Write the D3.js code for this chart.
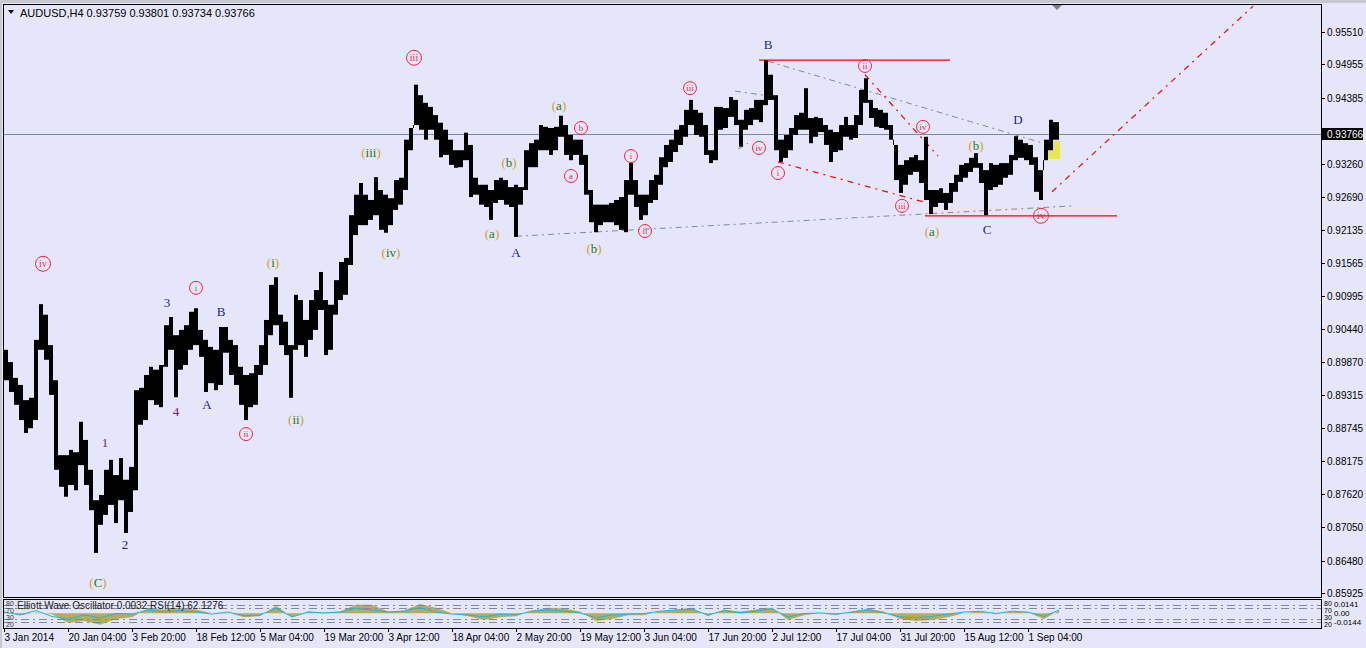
<!DOCTYPE html>
<html><head><meta charset="utf-8">
<script src="https://cdn.jsdelivr.net/npm/d3@7"></script>
<style>body{margin:0;background:#E6E6FA;overflow:hidden}svg{display:block}</style>
</head><body><svg id="c" width="1366" height="648"></svg>
<script>
// ---- data ----
const barsPerGroup = 5;   // each entry = high/low of 5 consecutive H4 bars
const highs = [
0.9008,0.8987,0.8960,0.8948,0.8922,0.8926,0.9025,0.9086,0.9068,0.9016,
0.8956,0.8828,0.8828,0.8837,0.8833,0.8885,0.8854,0.8803,0.8751,0.8760,
0.8803,0.8820,0.8794,0.8823,0.8786,0.8808,0.8939,0.8943,0.8965,0.8979,
0.8974,0.8982,0.9050,0.9064,0.9033,0.9042,0.9050,0.9073,0.9079,0.9042,
0.9025,0.9013,0.9008,0.9047,0.9047,0.9025,0.9016,0.8979,0.8965,0.8968,
0.8982,0.9016,0.9059,0.9119,0.9132,0.9068,0.9056,0.9016,0.9102,0.9093,
0.9059,0.9093,0.9110,0.9141,0.9093,0.9085,0.9127,0.9158,0.9165,0.9238,
0.9273,0.9293,0.9273,0.9264,0.9303,0.9281,0.9273,0.9267,0.9298,0.9302,
0.9367,0.9387,0.9461,0.9443,0.9430,0.9423,0.9409,0.9396,0.9384,0.9367,
0.9349,0.9349,0.9379,0.9358,0.9302,0.9290,0.9290,0.9281,0.9298,0.9302,
0.9298,0.9286,0.9290,0.9286,0.9349,0.9361,0.9367,0.9392,0.9389,0.9387,
0.9389,0.9408,0.9392,0.9375,0.9367,0.9367,0.9341,0.9281,0.9256,0.9256,
0.9256,0.9259,0.9264,0.9269,0.9298,0.9327,0.9298,0.9273,0.9273,0.9298,
0.9307,0.9337,0.9358,0.9367,0.9384,0.9392,0.9418,0.9435,0.9418,0.9413,
0.9392,0.9349,0.9423,0.9423,0.9421,0.9440,0.9435,0.9401,0.9418,0.9421,
0.9435,0.9435,0.9503,0.9478,0.9443,0.9367,0.9375,0.9387,0.9409,0.9413,
0.9455,0.9404,0.9406,0.9404,0.9392,0.9384,0.9380,0.9392,0.9406,0.9392,
0.9409,0.9452,0.9472,0.9435,0.9421,0.9418,0.9413,0.9392,0.9358,0.9324,
0.9332,0.9337,0.9341,0.9332,0.9372,0.9281,0.9281,0.9284,0.9276,0.9293,
0.9307,0.9324,0.9327,0.9336,0.9344,0.9327,0.9315,0.9327,0.9324,0.9327,
0.9327,0.9341,0.9373,0.9367,0.9361,0.9358,0.9337,0.9315,0.9367,0.9401,0.9397];
const lows = [
0.8956,0.8936,0.8914,0.8888,0.8866,0.8874,0.8888,0.9008,0.8991,0.8931,
0.8803,0.8774,0.8757,0.8777,0.8768,0.8811,0.8777,0.8734,0.8661,0.8709,
0.8726,0.8743,0.8712,0.8751,0.8695,0.8731,0.8768,0.8880,0.8888,0.8922,
0.8914,0.8910,0.8979,0.9008,0.8927,0.8974,0.8982,0.9008,0.9016,0.8996,
0.8936,0.8951,0.8939,0.8948,0.9003,0.8965,0.8948,0.8914,0.8888,0.8910,
0.8914,0.8965,0.8982,0.9033,0.9050,0.9016,0.8999,0.8926,0.9008,0.9016,
0.8996,0.9025,0.9042,0.9076,0.8999,0.9008,0.9068,0.9093,0.9102,0.9153,
0.9204,0.9221,0.9221,0.9230,0.9238,0.9213,0.9208,0.9221,0.9247,0.9256,
0.9281,0.9349,0.9392,0.9384,0.9367,0.9384,0.9367,0.9337,0.9341,0.9324,
0.9319,0.9320,0.9332,0.9269,0.9273,0.9256,0.9252,0.9230,0.9259,0.9264,
0.9256,0.9252,0.9201,0.9256,0.9281,0.9320,0.9320,0.9349,0.9349,0.9341,
0.9349,0.9372,0.9341,0.9332,0.9341,0.9324,0.9273,0.9226,0.9209,0.9221,
0.9226,0.9226,0.9221,0.9213,0.9209,0.9273,0.9252,0.9230,0.9238,0.9259,
0.9264,0.9290,0.9320,0.9329,0.9346,0.9358,0.9372,0.9392,0.9375,0.9372,
0.9341,0.9327,0.9332,0.9384,0.9387,0.9406,0.9392,0.9355,0.9384,0.9392,
0.9401,0.9397,0.9426,0.9435,0.9349,0.9329,0.9336,0.9349,0.9375,0.9384,
0.9384,0.9361,0.9372,0.9380,0.9358,0.9329,0.9346,0.9349,0.9372,0.9367,
0.9370,0.9392,0.9430,0.9404,0.9389,0.9387,0.9384,0.9367,0.9298,0.9276,
0.9290,0.9307,0.9312,0.9293,0.9264,0.9240,0.9252,0.9259,0.9247,0.9259,
0.9278,0.9295,0.9302,0.9312,0.9319,0.9293,0.9238,0.9281,0.9286,0.9290,
0.9302,0.9307,0.9332,0.9336,0.9332,0.9324,0.9278,0.9264,0.9332,0.9349,0.9367];

const currentPrice = 0.93766;
const headerText = "AUDUSD,H4  0.93759 0.93801 0.93734 0.93766";
const priceTicks = [0.95510,0.94955,0.94385,0.93260,0.92690,0.92135,0.91565,0.90995,0.90440,0.89870,0.89315,0.88745,0.88175,0.87620,0.87050,0.86480,0.85925];
const dateLabels = ["3 Jan 2014","20 Jan 04:00","3 Feb 20:00","18 Feb 12:00","5 Mar 04:00","19 Mar 20:00","3 Apr 12:00","18 Apr 04:00","2 May 20:00","19 May 12:00","3 Jun 04:00","17 Jun 20:00","2 Jul 12:00","17 Jul 04:00","31 Jul 20:00","15 Aug 12:00","1 Sep 04:00"];
const barsPerDateLabel = 64;

// indicator window: one value every 16 bars
const indStep = 16;
const ewo = [0.002,-0.002,0.001,-0.001,-0.010,-0.008,-0.012,-0.006,-0.004,0.005,
0.004,0.006,0.004,0.000,0.001,-0.004,-0.003,0.008,-0.004,0.002,
0.001,0.002,0.009,0.009,0.002,0.003,0.010,0.006,0.000,-0.003,
-0.007,-0.004,-0.003,0.003,0.006,0.005,0.002,-0.008,-0.006,-0.002,
-0.002,0.002,0.004,0.006,-0.003,0.004,0.002,0.004,0.006,-0.007,
-0.002,0.000,-0.002,0.002,0.005,0.002,-0.006,-0.008,-0.007,-0.004,
0.000,0.002,-0.001,0.002,0.001,-0.006,0.003];
const rsi = [55,45,60,40,30,45,35,50,48,62,55,60,55,48,55,42,45,68,38,55,
52,55,68,62,55,58,70,55,48,45,38,48,45,58,62,58,52,35,45,48,
50,58,62,64,45,60,52,58,66,38,50,52,48,55,62,52,38,35,40,48,
55,58,50,58,55,40,62];
const rsiLevels = [80,70,30,20];
const rsiLevelLabels = ["80","70","30","20"];
const ewoScaleLabels = ["0.0141","0.00","-0.0144"];
const indicatorText = "Elliott Wave Oscillator 0.0032  RSI(14) 62.1276";

// wave labels: bar index + price
const circledLabels = [
 {t:"iv",bar:39,p:0.9155,big:1},{t:"i",bar:192,p:0.9114},{t:"ii",bar:242,p:0.8864},
 {t:"iii",bar:410,p:0.9507,big:1},{t:"a",bar:567,p:0.9305},{t:"b",bar:577,p:0.9387},
 {t:"i",bar:627,p:0.9339},{t:"ii",bar:641,p:0.9211},{t:"iii",bar:686,p:0.9455},
 {t:"iv",bar:755,p:0.9353},{t:"i",bar:774,p:0.9310},{t:"ii",bar:861,p:0.9493},
 {t:"iii",bar:898,p:0.9254},{t:"iv",bar:919,p:0.9389},{t:"iv",bar:1037,p:0.9237,big:1}];
const parenLabels = [
 {t:"i",bar:269,p:0.9158},{t:"ii",bar:292,p:0.8890},{t:"iii",bar:367,p:0.9346},
 {t:"iv",bar:387,p:0.9175},{t:"a",bar:488,p:0.9208},{t:"b",bar:505,p:0.9329},
 {t:"a",bar:555,p:0.9426},{t:"b",bar:590,p:0.9182},{t:"a",bar:928,p:0.9211},
 {t:"b",bar:972,p:0.9358},{t:"C",bar:94,p:0.8611}];
const plainLabels = [
 {t:"3",bar:163,p:0.9088,c:"#1c1c9c"},{t:"1",bar:101,p:0.8849,c:"#7a1a6a"},
 {t:"4",bar:172,p:0.8903,c:"#7a1a6a"},{t:"2",bar:121,p:0.8675,c:"#1c1c9c"},
 {t:"A",bar:203,p:0.8914,c:"#1c1c9c"},{t:"B",bar:217,p:0.9073,c:"#1c1c9c"},
 {t:"A",bar:512,p:0.9175,c:"#1c1c9c"},{t:"B",bar:764,p:0.9529,c:"#1c1c9c"},
 {t:"C",bar:983,p:0.9214,c:"#1c1c9c"},{t:"D",bar:1014,p:0.9401,c:"#1c1c9c"}];

// trend lines: [bar1, price1, bar2, price2]
const grayLines = [[512,0.9202,1070,0.9254],[764,0.9501,1041,0.9360],[731,0.9450,764,0.9442],[734,0.9351,744,0.9361]];
const redSolidLines = [[755,0.9503,946,0.9503],[921,0.9237,1113,0.9237]];
const redDashLines = [[774,0.9329,923,0.9259],[861,0.9478,934,0.9339],[1048,0.9278,1249,0.9595]];
const yellowBox = [1041,0.9365,1056,0.9334];

// ---- drawing ----
const svg = d3.select("#c");
const L=3, R=1321, T=4, B=597, IT=599, IB=628;
const x = d3.scaleLinear().domain([0,1055]).range([4,1059]);
const y = d3.scaleLinear().domain([0.85925,0.95510]).range([593,32]);
const yE = d3.scaleLinear().domain([-0.0144,0.0141]).range([627,600]);
const yR = d3.scaleLinear().domain([0,100]).range([628,599]);
const FONT = "'Liberation Sans', Arial, sans-serif";
const SERIF = "'Liberation Serif', 'Times New Roman', serif";

svg.append("rect").attr("width",1366).attr("height",648).attr("fill","#E6E6FA");
svg.append("rect").attr("width",1366).attr("height",3).attr("fill","#c8c8d0");
svg.append("rect").attr("width",2).attr("height",648).attr("fill","#c8c8d0");

const defs = svg.append("defs");
defs.append("clipPath").attr("id","mc").append("rect").attr("x",L+1).attr("y",T+1).attr("width",R-L-1).attr("height",B-T-1);
defs.append("clipPath").attr("id","ic").append("rect").attr("x",L+1).attr("y",IT+1).attr("width",R-L-1).attr("height",IB-IT-1);

const main = svg.append("g").attr("clip-path","url(#mc)");
main.append("rect").attr("x",x(yellowBox[0])).attr("y",y(yellowBox[1]))
  .attr("width",x(yellowBox[2])-x(yellowBox[0])).attr("height",y(yellowBox[3])-y(yellowBox[1]))
  .attr("fill","#E8E84A");
main.append("line").attr("x1",L).attr("x2",R).attr("y1",Math.round(y(currentPrice))+0.5).attr("y2",Math.round(y(currentPrice))+0.5)
  .attr("stroke","#778899").attr("stroke-width",1);
function seg(g, d, color, dash, w){
  g.append("line").attr("x1",x(d[0])).attr("y1",y(d[1])).attr("x2",x(d[2])).attr("y2",y(d[3]))
   .attr("stroke",color).attr("stroke-width",w||1).attr("stroke-dasharray",dash||null);
}
grayLines.forEach(d=>seg(main,d,"#7f8a98","6,4,2,4"));
redSolidLines.forEach(d=>seg(main,d,"#FF0000",null,1.2));
redDashLines.forEach(d=>seg(main,d,"#FF0000","6,5,2,5",1.2));
// price bars: stem per group plus thin envelope so the band keeps a ragged texture
const bars = main.append("g");
bars.selectAll("rect").data(highs).join("rect")
  .attr("x",(d,i)=>x(i*barsPerGroup))
  .attr("width",(d,i)=>x((i+1)*barsPerGroup)-x(i*barsPerGroup)-1)
  .attr("y",d=>y(d))
  .attr("height",(d,i)=>Math.max(1,y(lows[i])-y(d)))
  .attr("fill","#000");
bars.append("g").selectAll("line").data(highs).join("line")
  .attr("x1",(d,i)=>x((i+1)*barsPerGroup)-0.5).attr("x2",(d,i)=>x((i+1)*barsPerGroup)-0.5)
  .attr("y1",(d,i)=>y(Math.min(d, i+1<highs.length?highs[i+1]:d)))
  .attr("y2",(d,i)=>y(Math.max(lows[i], i+1<lows.length?lows[i+1]:lows[i])))
  .attr("stroke","#000").attr("stroke-width",1);

// labels
const lab = svg.append("g");
circledLabels.forEach(d=>{
  const cx=x(d.bar), cy=y(d.p), r=d.big?7.5:6.5;
  lab.append("circle").attr("cx",cx).attr("cy",cy).attr("r",r).attr("fill","none").attr("stroke","#FF1E3C").attr("stroke-width",1);
  lab.append("text").attr("x",cx).attr("y",cy).attr("text-anchor","middle").attr("dominant-baseline","central")
    .attr("font-family",SERIF).attr("font-size",d.big?10:9).attr("fill","#FF1E3C").text(d.t);
});
parenLabels.forEach(d=>{
  const t = lab.append("text").attr("x",x(d.bar)).attr("y",y(d.p)).attr("text-anchor","middle").attr("dominant-baseline","central")
    .attr("font-family",SERIF).attr("font-size",13);
  t.append("tspan").attr("fill","#D4A017").text("(");
  t.append("tspan").attr("fill","#1E7A1E").text(d.t);
  t.append("tspan").attr("fill","#D4A017").text(")");
});
plainLabels.forEach(d=>{
  lab.append("text").attr("x",x(d.bar)).attr("y",y(d.p)).attr("text-anchor","middle").attr("dominant-baseline","central")
    .attr("font-family",SERIF).attr("font-size",13).attr("fill",d.c).text(d.t);
});

// frames
svg.append("rect").attr("x",L+0.5).attr("y",T+0.5).attr("width",R-L).attr("height",B-T).attr("fill","none").attr("stroke","#000");
svg.append("rect").attr("x",L+0.5).attr("y",IT+0.5).attr("width",R-L).attr("height",IB-IT).attr("fill","none").attr("stroke","#000");
svg.append("path").attr("d","M1052,5 L1062,5 L1057,10 Z").attr("fill","#7f7f7f");

// header
svg.append("path").attr("d","M8,10 L14,10 L11,14 Z").attr("fill","#000");
svg.append("text").attr("x",20).attr("y",17).attr("font-family",FONT).attr("font-size",11).attr("fill","#000").text(headerText);

// price axis
const pa = svg.append("g");
priceTicks.forEach(v=>{
  const yy=Math.round(y(v))+0.5;
  pa.append("line").attr("x1",R).attr("x2",R+4).attr("y1",yy).attr("y2",yy).attr("stroke","#000");
  pa.append("text").attr("x",R+6).attr("y",yy).attr("dominant-baseline","central").attr("font-family",FONT).attr("font-size",10).attr("fill","#000").text(v.toFixed(5));
});
const cy0 = Math.round(y(currentPrice));
pa.append("rect").attr("x",R+1).attr("y",cy0-6).attr("width",41).attr("height",12).attr("fill","#000");
pa.append("text").attr("x",R+6).attr("y",cy0).attr("dominant-baseline","central").attr("font-family",FONT).attr("font-size",10).attr("fill","#fff").text(currentPrice.toFixed(5));

// indicator window
const ind = svg.append("g").attr("clip-path","url(#ic)");
const ewoPts = ewo.map((v,i)=>[Math.min(i*indStep,1055),v]);
ind.append("path").datum(ewoPts)
  .attr("d",d3.area().x(d=>x(d[0])).y0(yE(0)).y1(d=>yE(d[1])))
  .attr("fill","#B5AD5C");
rsiLevels.forEach(v=>{
  ind.append("line").attr("x1",L).attr("x2",R).attr("y1",Math.round(yR(v))+0.5).attr("y2",Math.round(yR(v))+0.5)
    .attr("stroke","#7f8a98").attr("stroke-dasharray","8,4,2,4");
});
const rsiPts = rsi.map((v,i)=>[Math.min(i*indStep,1055),v]);
ind.append("path").datum(rsiPts).attr("d",d3.line().x(d=>x(d[0])).y(d=>yR(d[1])))
  .attr("fill","none").attr("stroke","#1EB4E6").attr("stroke-width",1);
svg.append("text").attr("x",17).attr("y",609).attr("font-family",FONT).attr("font-size",10).attr("fill","#222").text(indicatorText);
rsiLevelLabels.forEach((t,i)=>{
  svg.append("text").attr("x",6).attr("y",603+i*7).attr("dominant-baseline","central").attr("font-family",FONT).attr("font-size",7).attr("fill","#333").text(t);
});
rsiLevelLabels.forEach((t,i)=>{
  svg.append("text").attr("x",R+3).attr("y",603+i*7).attr("dominant-baseline","central").attr("font-family",FONT).attr("font-size",7).attr("fill","#000").text(t);
});
ewoScaleLabels.forEach((t,i)=>{
  svg.append("text").attr("x",R+13).attr("y",604+i*9).attr("dominant-baseline","central").attr("font-family",FONT).attr("font-size",8).attr("fill","#000").text(t);
});

// date axis
dateLabels.forEach((t,i)=>{
  const xx = Math.round(x(i*barsPerDateLabel))+0.5;
  svg.append("line").attr("x1",xx).attr("x2",xx).attr("y1",IB).attr("y2",IB+4).attr("stroke","#000");
  svg.append("text").attr("x",xx).attr("y",641).attr("font-family",FONT).attr("font-size",10).attr("fill","#000").text(t);
});
</script></body></html>
